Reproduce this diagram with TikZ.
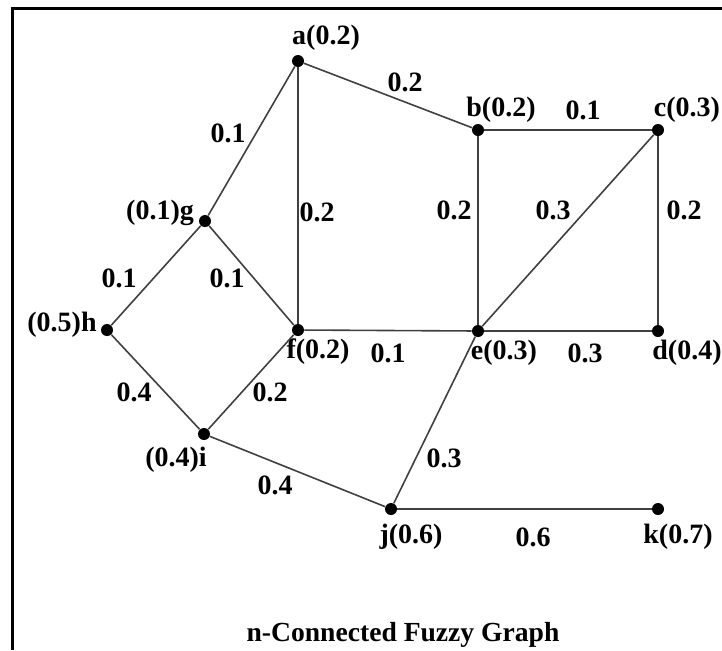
\documentclass[tikz,border=0pt]{standalone}
\usepackage{fontspec}
\setmainfont{Liberation Serif}
\usetikzlibrary{calc}

\begin{document}
\begin{tikzpicture}[x=0.5pt, y=-0.5pt,
  vertex/.style={circle, fill=black, inner sep=0pt, minimum size=6pt},
  edge/.style={draw=black!75, line width=0.8pt},
  lbl/.style={font=\fontsize{14}{16}\selectfont\bfseries, inner sep=0pt},
  wt/.style={lbl}]
  \useasboundingbox (0,0) rectangle (722,650);
  \draw[line width=1.5pt] (12,650) -- (12,8) -- (722,8);

  \node[vertex] (a) at (298,61) {};
  \node[vertex] (b) at (478,130) {};
  \node[vertex] (c) at (658,130) {};
  \node[vertex] (g) at (205,221) {};
  \node[vertex] (h) at (107,330) {};
  \node[vertex] (f) at (298,330) {};
  \node[vertex] (e) at (478,331) {};
  \node[vertex] (d) at (658,331) {};
  \node[vertex] (i) at (204,434) {};
  \node[vertex] (j) at (391,509) {};
  \node[vertex] (k) at (658,509) {};

  \draw[edge] (a)--(b);
  \draw[edge] (b)--(c);
  \draw[edge] (a)--(g);
  \draw[edge] (a)--(f);
  \draw[edge] (b)--(e);
  \draw[edge] (c)--(e);
  \draw[edge] (c)--(d);
  \draw[edge] (g)--(h);
  \draw[edge] (g)--(f);
  \draw[edge] (f)--(e);
  \draw[edge] (e)--(d);
  \draw[edge] (h)--(i);
  \draw[edge] (f)--(i);
  \draw[edge] (i)--(j);
  \draw[edge] (e)--(j);
  \draw[edge] (j)--(k);

  % vertex labels
  \node[lbl] (la) at ($(a)+(28,-23)$) {a(0.2)};
  \node[lbl] (lb) at ($(b)+(23,-20)$) {b(0.2)};
  \node[lbl] (lc) at ($(c)+(29,-20)$) {c(0.3)};
  \node[lbl] (lg) at ($(g)+(-45,-8)$) {(0.1)g};
  \node[lbl] (lh) at ($(h)+(-45,-5)$) {(0.5)h};
  \node[lbl] (lf) at ($(f)+(20,22)$) {f(0.2)};
  \node[lbl] (le) at ($(e)+(26,22)$) {e(0.3)};
  \node[lbl] (ld) at ($(d)+(29,22)$) {d(0.4)};
  \node[lbl] (li) at ($(i)+(-28,26)$) {(0.4)i};
  \node[lbl] (lj) at ($(j)+(20,28)$) {j(0.6)};
  \node[lbl] (lk) at ($(k)+(20,28)$) {k(0.7)};

  % edge weights
  \node[wt] (wab) at (405,82) {0.2};
  \node[wt] (wbc) at (583,110) {0.1};
  \node[wt] (wag) at (228,133) {0.1};
  \node[wt] (waf) at (317,212) {0.2};
  \node[wt] (wbe) at (454,210) {0.2};
  \node[wt] (wce) at (553,210) {0.3};
  \node[wt] (wcd) at (684,210) {0.2};
  \node[wt] (wgh) at (119,278) {0.1};
  \node[wt] (wgf) at (227,278) {0.1};
  \node[wt] (wfe) at (388,353) {0.1};
  \node[wt] (wed) at (585,353) {0.3};
  \node[wt] (whi) at (134,392) {0.4};
  \node[wt] (wfi) at (270,392) {0.2};
  \node[wt] (wij) at (275,485) {0.4};
  \node[wt] (wej) at (444,458) {0.3};
  \node[wt] (wjk) at (533,537) {0.6};

  \node[lbl, font=\fontsize{13.8}{16}\selectfont\bfseries] (title) at (403,635) {n-Connected Fuzzy Graph};
\end{tikzpicture}
\end{document}
